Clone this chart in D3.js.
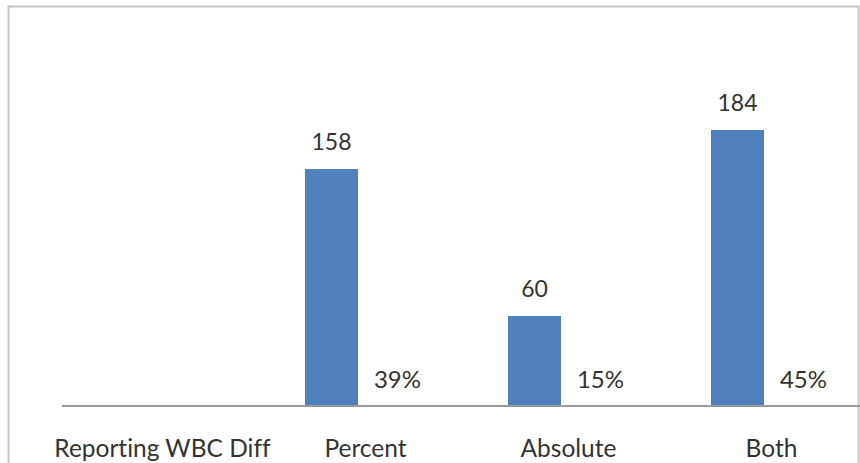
<!DOCTYPE html>
<html>
<head>
<meta charset="utf-8">
<script src="https://cdn.jsdelivr.net/npm/d3@7"></script>
<style>
  body { margin: 0; background: #fff; }
  text { font-family: Lato, "Open Sans", sans-serif; fill: #333; font-variant-ligatures: none; }
</style>
</head>
<body>
<div id="chart"></div>
<script>
// chart values
var categories = ["Reporting WBC Diff", "Percent", "Absolute", "Both"];
var counts = [null, 158, 60, 184];
var shares = [null, 39, 15, 45];
var series = ["count", "share"];

var width = 860, height = 463;
var baseline = 406;

var svg = d3.select("#chart")
  .append("svg")
  .attr("width", width)
  .attr("height", height);

// outer frame
svg.append("rect")
  .attr("x", 8.5)
  .attr("y", 6.5)
  .attr("width", 850)
  .attr("height", 470)
  .style("fill", "#fff")
  .style("stroke", "#c4c4c4")
  .style("stroke-width", 2);

var x = d3.scaleBand()
  .domain(categories)
  .range([46, 858])
  .paddingInner(0);

// position of the two series inside one category
var xs = d3.scaleBand()
  .domain(series)
  .range([56, 162]);

var y = d3.scaleLinear()
  .domain([0, 200])
  .range([baseline, 106]);

var rows = categories.map(function(c, i) {
  return { cat: c, count: counts[i], share: shares[i] };
});

var bars = rows.filter(function(d) { return d.count != null; });

svg.selectAll("rect.bar")
  .data(bars)
  .enter()
  .append("rect")
  .attr("class", "bar")
  .attr("x", function(d) { return x(d.cat) + xs("count"); })
  .attr("y", function(d) { return y(d.count); })
  .attr("width", xs.bandwidth())
  .attr("height", function(d) { return y(0) - y(d.count); })
  .style("fill", "#4F81BD");

// count labels
svg.selectAll("text.count")
  .data(bars)
  .enter()
  .append("text")
  .attr("class", "count")
  .attr("x", function(d) { return x(d.cat) + xs("count") + xs.bandwidth() / 2; })
  .attr("y", function(d) { return y(d.count) - 19; })
  .attr("text-anchor", "middle")
  .style("font-size", "23px")
  .text(function(d) { return d.count; });

// share labels (series sits on the same axis, bars too small to see)
svg.selectAll("text.share")
  .data(bars)
  .enter()
  .append("text")
  .attr("class", "share")
  .attr("x", function(d) { return x(d.cat) + xs("share") + xs.bandwidth() / 2 + 13; })
  .attr("y", function(d) { return y(0) - 18; })
  .attr("text-anchor", "middle")
  .style("font-size", "24px")
  .text(function(d) { return d.share + "%"; });

// category axis
var axis = svg.append("g")
  .attr("transform", "translate(0," + baseline + ")");

axis.append("line")
  .attr("x1", 62)
  .attr("x2", 860)
  .style("stroke", "#9a9a9a")
  .style("stroke-width", 2);

axis.selectAll("text")
  .data(categories)
  .enter()
  .append("text")
  .attr("x", function(d) { return x(d) + x.bandwidth() / 2 + 15; })
  .attr("y", 51)
  .attr("text-anchor", "middle")
  .style("font-size", "24.5px")
  .text(function(d) { return d; });
</script>
</body>
</html>
